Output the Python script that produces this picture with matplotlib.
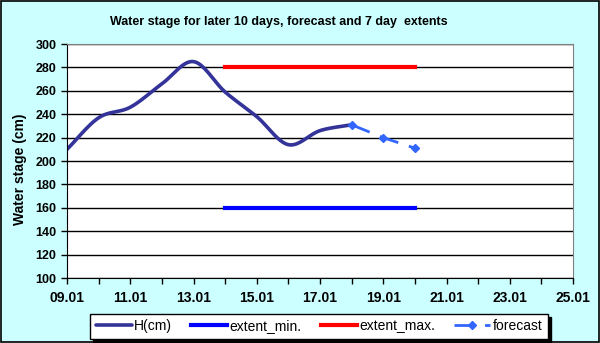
import matplotlib
matplotlib.use("Agg")
import matplotlib.pyplot as plt
import numpy as np

plt.rcParams["font.family"] = ["Liberation Sans", "DejaVu Sans"]

# data (day of January)
days_h = [9, 10, 11, 12, 13, 14, 15, 16, 17, 18]
h_cm = [210, 237, 246, 266, 285, 259, 238, 214, 226, 231]
days_ext = [14, 20]
ext_min = [160, 160]
ext_max = [280, 280]
days_fc = [18, 19, 20]
forecast = [231, 220, 211]
tick_days = list(range(9, 26, 2))
tick_labels = ["%02d.01" % d for d in tick_days]


def smooth(xs, ys, n=20):
    # Catmull-Rom curve through the points, like Excel's smoothed line
    xs = np.asarray(xs, float)
    ys = np.asarray(ys, float)
    px = np.concatenate([[2 * xs[0] - xs[1]], xs, [2 * xs[-1] - xs[-2]]])
    py = np.concatenate([[2 * ys[0] - ys[1]], ys, [2 * ys[-1] - ys[-2]]])
    ox, oy = [], []
    t = np.linspace(0, 1, n, endpoint=False)
    for i in range(1, len(px) - 2):
        for arr, out in ((px, ox), (py, oy)):
            p0, p1, p2, p3 = arr[i - 1:i + 3]
            out.extend(0.5 * (2 * p1 + (-p0 + p2) * t
                              + (2 * p0 - 5 * p1 + 4 * p2 - p3) * t ** 2
                              + (-p0 + 3 * p1 - 3 * p2 + p3) * t ** 3))
    ox.append(xs[-1])
    oy.append(ys[-1])
    return ox, oy


fig = plt.figure(figsize=(6, 3.43), dpi=100, facecolor="#CCFFFF")
fig.patches.append(plt.Rectangle((0.001, 0.002), 0.997, 0.995, transform=fig.transFigure,
                                 fill=False, edgecolor="black", lw=1.2))
ax = fig.add_axes([0.1117, 0.1895, 0.8433, 0.682])
ax.set_facecolor("white")

sx, sy = smooth(days_h, h_cm)
ax.plot(sx, sy, color="#333399", lw=2.6, label="H(cm)", solid_capstyle="round")
ax.plot(days_ext, ext_min, color="#0000FF", lw=3, label="extent_min.")
ax.plot(days_ext, ext_max, color="#FF0000", lw=3, label="extent_max.")
ax.plot(days_fc, forecast, color="#3366FF", lw=2, dashes=(7, 4), marker="D",
        markersize=4, label="forecast")

ax.set_xlim(9, 25)
ax.set_ylim(100, 300)
ax.set_xticks(tick_days)
ax.set_xticklabels(tick_labels)
ax.set_xticks(range(9, 26), minor=True)
ax.set_yticks(range(100, 301, 20))
ax.yaxis.grid(True, color="black", lw=1)
ax.set_axisbelow(True)
ax.tick_params(axis="both", which="both", direction="out", length=4, width=1)
ax.tick_params(axis="y", labelsize=9)
ax.tick_params(axis="x", labelsize=10, pad=5)
for lab in ax.get_xticklabels() + ax.get_yticklabels():
    lab.set_fontweight("bold")
for s in ("top", "right"):
    ax.spines[s].set_color("#808080")
for s in ("left", "bottom"):
    ax.spines[s].set_color("black")

ax.set_ylabel("Water stage (cm)", fontsize=10, fontweight="bold")
ax.yaxis.set_label_coords(-0.08, 0.465)
fig.text(0.465, 0.935, "Water stage for later 10 days, forecast and 7 day  extents",
         ha="center", va="center", fontsize=9, fontweight="bold")

leg = fig.legend(loc="lower left", bbox_to_anchor=(0.15, 0.012, 0.763, 0.07),
                 mode="expand", ncol=4, fontsize=10, borderaxespad=0,
                 frameon=True, fancybox=False, edgecolor="black", framealpha=1,
                 shadow={"color": "black", "alpha": 1}, handlelength=2.6,
                 handletextpad=0.15, borderpad=0.4)
leg.get_frame().set_linewidth(1)

fig.savefig("out.png", dpi=100, facecolor=fig.get_facecolor())
